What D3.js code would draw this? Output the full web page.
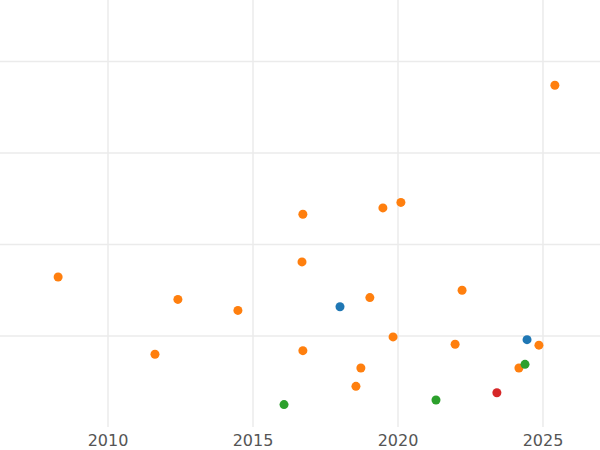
<!DOCTYPE html>
<html><head><meta charset="utf-8">
<script src="https://cdn.jsdelivr.net/npm/d3@7"></script>
<style>body{margin:0;background:#fff}</style></head>
<body><svg id="c" width="600" height="450"></svg>
<script>
const years = [2008.28,2011.62,2012.41,2014.48,2016.72,2016.69,2016.72,2016.07,2018.0,2018.55,2018.72,2019.03,2019.48,2019.83,2020.10,2021.31,2021.97,2022.21,2023.41,2024.17,2024.38,2024.45,2024.86,2025.41];
const values = [1.645,0.80,1.40,1.28,2.33,1.81,0.84,0.25,1.32,0.45,0.65,1.42,2.40,0.99,2.46,0.30,0.91,1.50,0.38,0.65,0.69,0.96,0.90,3.74];
const groups = ["o","o","o","o","o","o","o","g","b","o","o","o","o","o","o","g","o","o","r","o","g","b","o","o"];
const xTicks = [2010,2015,2020,2025];
const yTicks = [1,2,3,4];
const colors = {o:"#ff7f0e",b:"#1f77b4",g:"#2ca02c",r:"#d62728"};
const svg = d3.select("#c");
const x = d3.scaleLinear().domain([2006.276,2026.966]).range([0,600]);
const y = d3.scaleLinear().domain([0,4.672]).range([427.5,0]);
svg.selectAll(".vg").data(xTicks).join("line").attr("x1",d=>x(d)).attr("x2",d=>x(d)).attr("y1",0).attr("y2",427).attr("stroke","#ebebeb").attr("stroke-width",1.5);
svg.selectAll(".hg").data(yTicks).join("line").attr("x1",0).attr("x2",600).attr("y1",d=>y(d)).attr("y2",d=>y(d)).attr("stroke","#ebebeb").attr("stroke-width",1.5);
svg.selectAll(".tl").data(xTicks).join("text").attr("x",d=>x(d)).attr("y",446).attr("text-anchor","middle").attr("font-family","DejaVu Sans").attr("font-size",16).attr("fill","#555").text(d=>d);
svg.selectAll("circle").data(years.map((v,i)=>i)).join("circle").attr("cx",i=>x(years[i])).attr("cy",i=>y(values[i])).attr("r",4.5).attr("fill",i=>colors[groups[i]]);
</script></body></html>
